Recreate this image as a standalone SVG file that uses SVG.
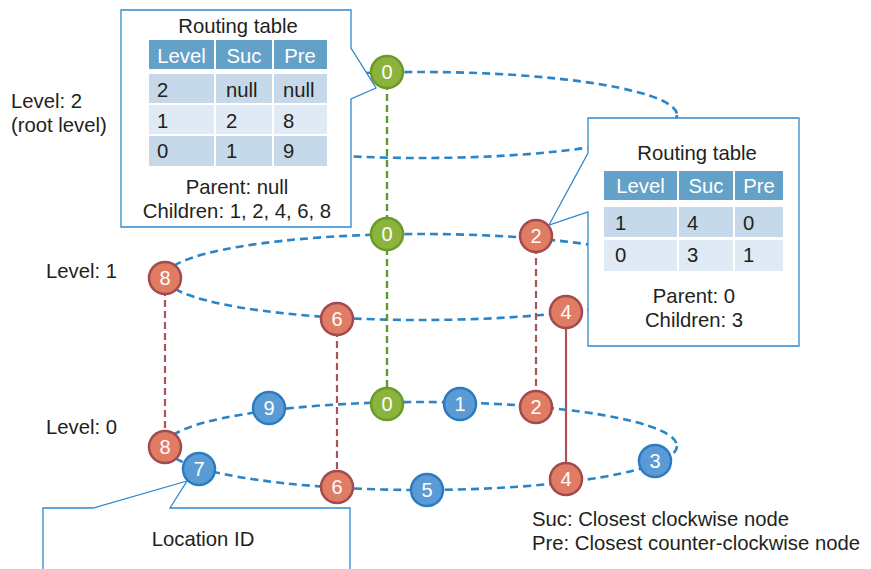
<svg xmlns="http://www.w3.org/2000/svg" width="871" height="569" viewBox="0 0 871 569">
<style>
text{font-family:"Liberation Sans",Arial,sans-serif;fill:#231f20;font-size:20.3px}
.ring{fill:none;stroke:#2a84c6;stroke-width:2.6;stroke-dasharray:8 5}
.vg{stroke:#5f9a2f;stroke-width:2.4;stroke-dasharray:7 4}
.vr{stroke:#a9535b;stroke-width:2.2;stroke-dasharray:7 4}
.vs{stroke:#a9535b;stroke-width:2.2}
.box{fill:#fff;stroke:#2f88cc;stroke-width:1.3}
.hd{fill:#64a1c9;stroke:#fff;stroke-width:2}
.r1{fill:#c6d9ea;stroke:#fff;stroke-width:2}
.r2{fill:#dfeaf4;stroke:#fff;stroke-width:2}
.ht{fill:#fff;text-anchor:middle}
.c{text-anchor:middle}
.g circle{fill:#8cb43c;stroke:#6a9a2a;stroke-width:2.5}
.r circle{fill:#e07c64;stroke:#a34a4f;stroke-width:2.5}
.b circle{fill:#5b9bd5;stroke:#2c7bc0;stroke-width:2.5}
.n text{fill:#fff;font-size:20px;text-anchor:middle}
</style>

<g id="rings">
<ellipse class="ring" cx="421" cy="115" rx="256" ry="43"/>
<ellipse class="ring" cx="421" cy="277" rx="256" ry="43"/>
<ellipse class="ring" cx="421" cy="446" rx="256" ry="44"/>
</g>

<g id="connectors">
<line class="vg" x1="387" y1="72" x2="387" y2="404"/>
<line class="vr" x1="165" y1="278" x2="165" y2="447"/>
<line class="vr" x1="337" y1="319" x2="337" y2="487"/>
<line class="vr" x1="536" y1="236" x2="536" y2="407"/>
<line class="vs" x1="566" y1="312" x2="566" y2="479"/>
</g>

<g id="table-root">
<path class="box" d="M121,10 H351 V48 L376,88 L351,99 V227 H121 Z"/>
<text class="c" x="238" y="33">Routing table</text>
<rect class="hd" x="148" y="39" width="67" height="31"/>
<rect class="hd" x="215" y="39" width="58" height="31"/>
<rect class="hd" x="273" y="39" width="55" height="31"/>
<rect class="r1" x="148" y="73" width="67" height="31"/>
<rect class="r1" x="215" y="73" width="58" height="31"/>
<rect class="r1" x="273" y="73" width="55" height="31"/>
<rect class="r2" x="148" y="104" width="67" height="31"/>
<rect class="r2" x="215" y="104" width="58" height="31"/>
<rect class="r2" x="273" y="104" width="55" height="31"/>
<rect class="r1" x="148" y="135" width="67" height="32"/>
<rect class="r1" x="215" y="135" width="58" height="32"/>
<rect class="r1" x="273" y="135" width="55" height="32"/>
<text class="ht" x="181.5" y="63">Level</text>
<text class="ht" x="244" y="63">Suc</text>
<text class="ht" x="300" y="63">Pre</text>
<text x="157" y="97">2</text><text x="226" y="97">null</text><text x="283" y="97">null</text>
<text x="157" y="128">1</text><text x="226" y="128">2</text><text x="283" y="128">8</text>
<text x="157" y="158">0</text><text x="226" y="158">1</text><text x="283" y="158">9</text>
<text class="c" x="237" y="194">Parent: null</text>
<text class="c" x="237" y="218">Children: 1, 2, 4, 6, 8</text>
</g>

<g id="table-node2">
<path class="box" d="M588,118 H799 V346 H588 V212 L549,225 L588,153 Z"/>
<text class="c" x="697" y="160">Routing table</text>
<rect class="hd" x="603" y="170" width="75" height="31"/>
<rect class="hd" x="678" y="170" width="56" height="31"/>
<rect class="hd" x="734" y="170" width="50" height="31"/>
<rect class="r1" x="603" y="206" width="75" height="32"/>
<rect class="r1" x="678" y="206" width="56" height="32"/>
<rect class="r1" x="734" y="206" width="50" height="32"/>
<rect class="r2" x="603" y="239" width="75" height="33"/>
<rect class="r2" x="678" y="239" width="56" height="33"/>
<rect class="r2" x="734" y="239" width="50" height="33"/>
<text class="ht" x="640.5" y="193">Level</text>
<text class="ht" x="706" y="193">Suc</text>
<text class="ht" x="759" y="193">Pre</text>
<text x="615" y="230">1</text><text x="687" y="230">4</text><text x="743" y="230">0</text>
<text x="615" y="262">0</text><text x="687" y="262">3</text><text x="743" y="262">1</text>
<text class="c" x="694" y="303">Parent: 0</text>
<text class="c" x="694" y="327">Children: 3</text>
</g>

<g id="location-callout">
<path class="box" d="M43,569 V508 H93 L187,481 L170,508 H350 V569"/>
<text class="c" x="203" y="546">Location ID</text>
</g>

<g id="labels">
<text x="11" y="108">Level: 2</text>
<text x="11" y="132">(root level)</text>
<text x="46" y="278">Level: 1</text>
<text x="46" y="434">Level: 0</text>
<text x="532" y="526">Suc: Closest clockwise node</text>
<text x="532" y="550">Pre: Closest counter-clockwise node</text>
</g>

<g id="L2-0" class="n g"><circle cx="387" cy="72" r="16"/><text x="387" y="79">0</text></g>

<g id="L1-0" class="n g"><circle cx="387" cy="234" r="16"/><text x="387" y="241">0</text></g>
<g id="L1-2" class="n r"><circle cx="536" cy="236" r="16"/><text x="536" y="243">2</text></g>
<g id="L1-4" class="n r"><circle cx="566" cy="312" r="16"/><text x="566" y="319">4</text></g>
<g id="L1-6" class="n r"><circle cx="337" cy="319" r="16"/><text x="337" y="326">6</text></g>
<g id="L1-8" class="n r"><circle cx="165" cy="278" r="16"/><text x="165" y="285">8</text></g>

<g id="L0-0" class="n g"><circle cx="387" cy="404" r="16"/><text x="387" y="411">0</text></g>
<g id="L0-1" class="n b"><circle cx="460" cy="404" r="16"/><text x="460" y="411">1</text></g>
<g id="L0-2" class="n r"><circle cx="536" cy="407" r="16"/><text x="536" y="414">2</text></g>
<g id="L0-3" class="n b"><circle cx="655" cy="461" r="16"/><text x="655" y="468">3</text></g>
<g id="L0-4" class="n r"><circle cx="566" cy="479" r="16"/><text x="566" y="486">4</text></g>
<g id="L0-5" class="n b"><circle cx="427" cy="490" r="16"/><text x="427" y="497">5</text></g>
<g id="L0-6" class="n r"><circle cx="337" cy="487" r="16"/><text x="337" y="494">6</text></g>
<g id="L0-7" class="n b"><circle cx="199" cy="469" r="16"/><text x="199" y="476">7</text></g>
<g id="L0-8" class="n r"><circle cx="165" cy="447" r="16"/><text x="165" y="454">8</text></g>
<g id="L0-9" class="n b"><circle cx="269" cy="408" r="16"/><text x="269" y="415">9</text></g>
</svg>
